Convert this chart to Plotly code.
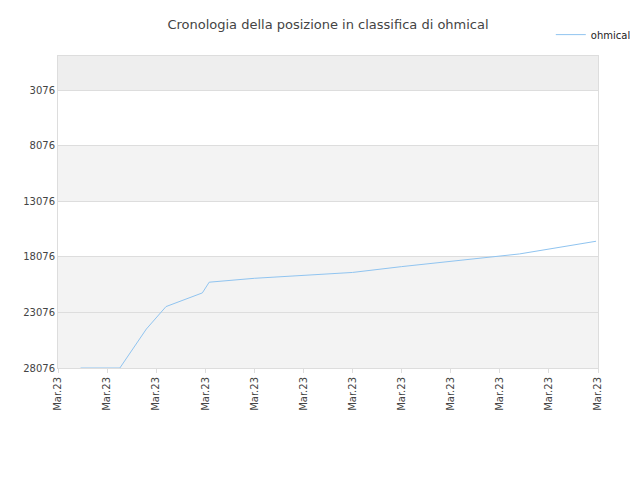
import plotly.graph_objects as go

x_pos = [0.46, 1.26, 1.8, 2.2, 2.94, 3.08, 4, 6, 7, 9, 9.4, 10.96]
ranks = [28076, 28076, 24567, 22550, 21321, 20357, 20006, 19480, 18954, 17989, 17814, 16673]
tick_vals = list(range(12))
tick_text = ["Mar.23"] * 12
y_ticks = [3076, 8076, 13076, 18076, 23076, 28076]
y_text = [str(v) for v in y_ticks]

fig = go.Figure()
fig.add_trace(go.Scatter(x=x_pos, y=ranks, mode="lines", name="ohmical",
                         line=dict(color="#90c4f0", width=1)))
bands = [(0, 3076, "#eeeeee"), (8076, 13076, "#f3f3f3"), (18076, 28076, "#f3f3f3")]
for y0, y1, c in bands:
    fig.add_shape(type="rect", xref="paper", x0=0, x1=1, yref="y", y0=y0, y1=y1,
                  fillcolor=c, line_width=0, layer="below")
fig.update_layout(
    width=640, height=480, plot_bgcolor="white", paper_bgcolor="white",
    margin=dict(l=50, r=40, t=40, b=120),
    title=dict(text="Cronologia della posizione in classifica di ohmical", x=0.5, y=0.975,
               font=dict(family="DejaVu Sans", size=13, color="#444")),
    font=dict(family="DejaVu Sans", size=10, color="#444"),
    showlegend=True,
    legend=dict(x=1.07, y=1.115, xanchor="right", yanchor="top", bgcolor="rgba(0,0,0,0)",
                font=dict(size=10, color="#222")),
    xaxis=dict(range=[0, 11], tickvals=tick_vals, ticktext=tick_text, tickangle=-90,
               showgrid=False, zeroline=False, showline=True, linecolor="#ddd", ticks="outside",
               ticklen=4, tickcolor="#ddd", automargin=False, mirror=True),
    yaxis=dict(range=[28076, 6], tickvals=y_ticks, ticktext=y_text, showgrid=True,
               gridcolor="#dddddd", zeroline=False, showline=True, linecolor="#ddd",
               mirror=True, automargin=False),
)
fig.write_html("out.html")
